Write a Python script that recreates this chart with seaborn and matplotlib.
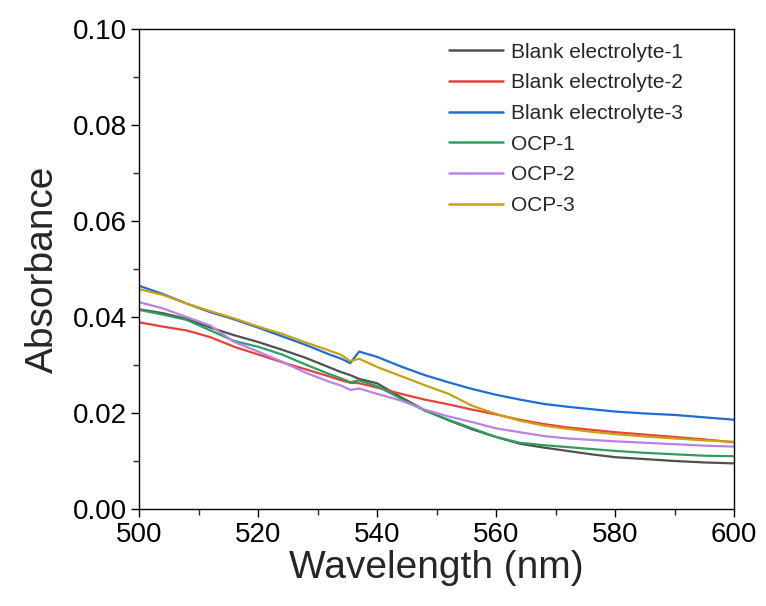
import matplotlib
matplotlib.use("Agg")
import matplotlib.pyplot as plt
import seaborn as sns
import pandas as pd
from matplotlib.ticker import MultipleLocator

wavelength = [500, 504, 508, 512, 516, 520, 524, 528, 532, 534, 535.5, 537, 540,
              544, 548, 552, 556, 560, 564, 568, 572, 576, 580, 585, 590, 595, 600]

blank_1 = [0.0416, 0.0408, 0.0396, 0.0378, 0.0362, 0.0348, 0.0332, 0.0315, 0.0295, 0.0285,
           0.0279, 0.0271, 0.0262, 0.0233, 0.0206, 0.0185, 0.0166, 0.0150, 0.0136, 0.0128,
           0.0121, 0.0114, 0.0108, 0.0104, 0.0100, 0.0097, 0.0095]
blank_2 = [0.0389, 0.0380, 0.0372, 0.0358, 0.0338, 0.0322, 0.0306, 0.0291, 0.0276, 0.0268,
           0.0263, 0.0262, 0.0253, 0.0240, 0.0228, 0.0218, 0.0207, 0.0197, 0.0186, 0.0177,
           0.0170, 0.0165, 0.0160, 0.0155, 0.0150, 0.0145, 0.0139]
blank_3 = [0.0465, 0.0448, 0.0428, 0.0410, 0.0395, 0.0378, 0.0360, 0.0342, 0.0322, 0.0313,
           0.0304, 0.0328, 0.0317, 0.0297, 0.0279, 0.0264, 0.0250, 0.0238, 0.0228, 0.0219,
           0.0213, 0.0208, 0.0203, 0.0199, 0.0196, 0.0191, 0.0186]
ocp_1 = [0.0415, 0.0405, 0.0394, 0.0372, 0.0350, 0.0338, 0.0322, 0.0301, 0.0281, 0.0272,
         0.0264, 0.0268, 0.0256, 0.0230, 0.0205, 0.0186, 0.0168, 0.0150, 0.0138, 0.0133,
         0.0129, 0.0125, 0.0121, 0.0117, 0.0114, 0.0111, 0.0110]
ocp_2 = [0.0431, 0.0418, 0.0400, 0.0382, 0.0348, 0.0328, 0.0307, 0.0284, 0.0265, 0.0257,
         0.0248, 0.0251, 0.0240, 0.0226, 0.0207, 0.0193, 0.0181, 0.0168, 0.0160, 0.0152,
         0.0147, 0.0144, 0.0141, 0.0138, 0.0135, 0.0132, 0.0130]
ocp_3 = [0.0458, 0.0446, 0.0428, 0.0412, 0.0397, 0.0380, 0.0365, 0.0347, 0.0330, 0.0321,
         0.0308, 0.0313, 0.0296, 0.0277, 0.0258, 0.0240, 0.0215, 0.0198, 0.0184, 0.0174,
         0.0167, 0.0161, 0.0156, 0.0151, 0.0147, 0.0143, 0.0140]

labels = ["Blank electrolyte-1", "Blank electrolyte-2", "Blank electrolyte-3",
          "OCP-1", "OCP-2", "OCP-3"]
series = [blank_1, blank_2, blank_3, ocp_1, ocp_2, ocp_3]
colors = ["#505050", "#E8413C", "#1E6ED2", "#2E9E5E", "#B882E6", "#C9A012"]

rows = []
for lab, vals in zip(labels, series):
    for w, v in zip(wavelength, vals):
        rows.append({"Wavelength": w, "Absorbance": v, "Sample": lab})
df = pd.DataFrame(rows)

sns.set_style("ticks")
plt.rcParams["font.family"] = ["Liberation Sans", "DejaVu Sans"]

fig = plt.figure(figsize=(7.66, 6.06), dpi=100)
ax = fig.add_axes([139/766, 1 - 509/606, (734-139)/766, (509-29)/606])

sns.lineplot(data=df, x="Wavelength", y="Absorbance", hue="Sample",
             hue_order=labels, palette=colors, linewidth=1.6, ax=ax)

ax.set_xlim(500, 600)
ax.set_ylim(0, 0.10)
ax.xaxis.set_major_locator(MultipleLocator(20))
ax.xaxis.set_minor_locator(MultipleLocator(10))
ax.yaxis.set_major_locator(MultipleLocator(0.02))
ax.yaxis.set_minor_locator(MultipleLocator(0.01))
ax.yaxis.set_major_formatter(matplotlib.ticker.FormatStrFormatter("%.2f"))

for s in ax.spines.values():
    s.set_visible(True)
    s.set_linewidth(1.0)
    s.set_color("black")

ax.tick_params(axis="both", which="major", direction="out", length=6, width=1.0,
               labelsize=20, colors="black", pad=3)
ax.tick_params(axis="both", which="minor", direction="out", length=4, width=1.0)
ax.tick_params(top=False, right=False, which="both")

ax.set_xlabel("Wavelength (nm)", fontsize=28, labelpad=2)
ax.set_ylabel("Absorbance", fontsize=28, labelpad=8)

leg = ax.legend(loc="upper left", bbox_to_anchor=(430/766, 1 - 24/606),
                bbox_transform=fig.transFigure, frameon=False, fontsize=15,
                handlelength=2.6, handletextpad=0.4, labelspacing=0.56,
                borderpad=0.4)
for line in leg.get_lines():
    line.set_linewidth(1.8)

fig.savefig("out.png", dpi=100)
